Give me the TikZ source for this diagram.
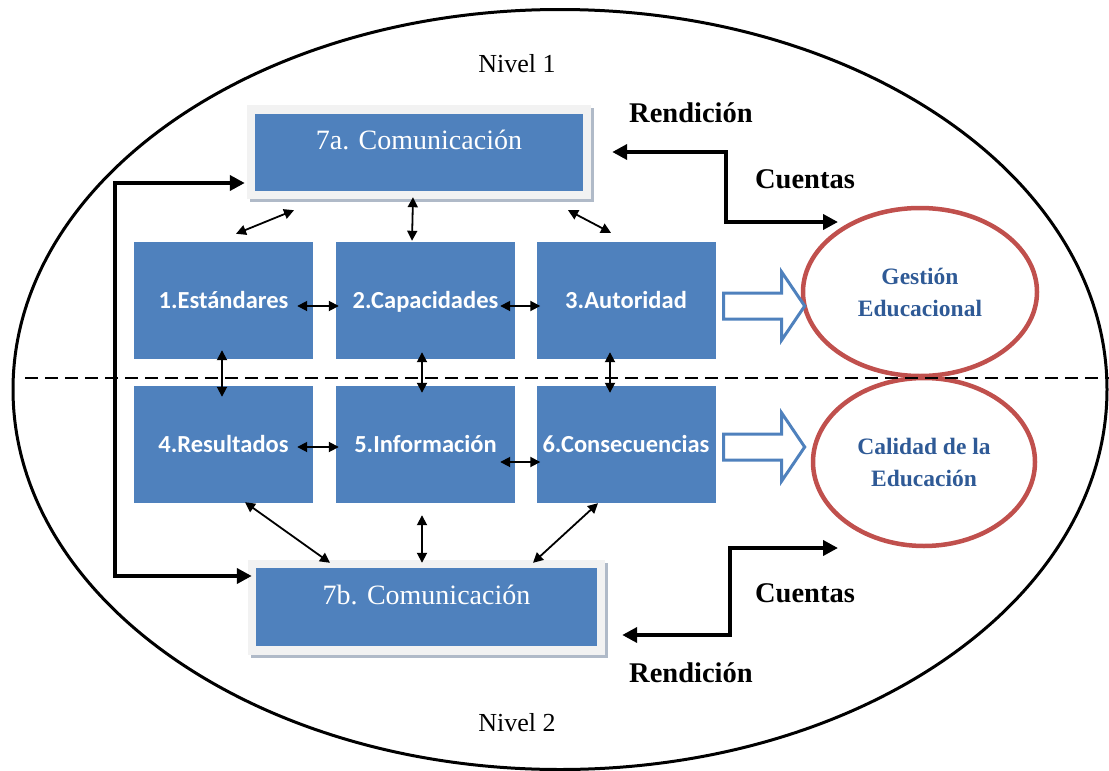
\documentclass[tikz,border=0pt]{standalone}
\usepackage{fontspec}
\setmainfont{Liberation Serif}
\newfontfamily\calibrifont{Carlito}
\usetikzlibrary{calc,arrows.meta,shapes.geometric}
\definecolor{boxblue}{HTML}{4F81BD}
\definecolor{ellred}{HTML}{C0504D}
\definecolor{txtblue}{HTML}{2F5A96}
\definecolor{framegray}{HTML}{F2F2F2}
\definecolor{shadowgray}{HTML}{B0BAC8}
\begin{document}
\begin{tikzpicture}[x=1pt,y=-1pt,
  bluebox/.style={fill=boxblue, draw=none, minimum width=179pt, minimum height=117pt, inner sep=0pt,
    text height=20pt, text depth=5pt,
    font=\calibrifont\bfseries\fontsize{24.5}{28}\selectfont, text=white},
  framebox/.style={fill=framegray, draw=none, inner sep=0pt},
  commbox/.style={fill=boxblue, draw=none, inner sep=0pt},
  commtext/.style={anchor=base, text=white, font=\fontsize{28}{32}\selectfont, inner sep=0pt},
  redell/.style={ellipse, draw=ellred, line width=4.5pt, inner sep=0pt, align=center,
    text=txtblue, font=\bfseries\fontsize{23.5}{32}\selectfont},
  thinarr/.style={line width=1.8pt, {Triangle[length=10pt,width=10pt]}-{Triangle[length=10pt,width=10pt]}},
  thickarr/.style={line width=4pt, line join=miter, {Triangle[length=15pt,width=15pt]}-{Triangle[length=15pt,width=15pt]}},
  sidelbl/.style={anchor=base, inner sep=0pt, font=\bfseries\fontsize{28.5}{32}\selectfont},
  nivel/.style={anchor=base, inner sep=0pt, font=\fontsize{26}{30}\selectfont},
  blockarr/.style={draw=boxblue, line width=3pt, fill=white, line join=miter}
]
\useasboundingbox (0,0) rectangle (1109,771);

% outer ellipse
\node[ellipse, draw=black, line width=3pt, minimum width=1094pt, minimum height=760pt, inner sep=0pt] (outer) at (560,389.5) {};

% Nivel labels
\node[nivel] (n1) at (517,72) {Nivel 1};
\node[nivel] (n2) at (517,731) {Nivel 2};

% 7a frame + box
\fill[shadowgray] (250,108) rectangle (594,202);
\node[framebox, minimum width=344pt, minimum height=94pt] (fa) at (419,152) {};
\node[commbox, minimum width=328pt, minimum height=77pt] (c7a) at (419,152.5) {};
\node[commtext] (t7a) at (419,149) {7a. Comunicación};

% 7b frame + box
\fill[shadowgray] (251,563) rectangle (608,658);
\node[framebox, minimum width=357pt, minimum height=95pt] (fb) at (426.5,607.5) {};
\node[commbox, minimum width=341pt, minimum height=78pt] (c7b) at (426.5,607) {};
\node[commtext] (t7b) at (426.5,604) {7b. Comunicación};

% blue boxes
\node[bluebox] (b1) at (223.5,300.5) {1.Estándares};
\node[bluebox] (b2) at (425.5,300.5) {2.Capacidades};
\node[bluebox] (b3) at (626,300.5) {3.Autoridad};
\node[bluebox] (b4) at (223.5,444.5) {4.Resultados};
\node[bluebox] (b5) at (425.5,444.5) {5.Información};
\node[bluebox] (b6) at (626,444.5) {6.Consecuencias};

% red ellipses
\node[redell, minimum width=234pt, minimum height=168pt] (e1) at (920,292) {Gestión\\Educacional};
\node[redell, minimum width=222pt, minimum height=168pt] (e2) at (924,462) {Calidad de la\\Educación};

% horizontal thin arrows
\draw[thinarr] ($(b1.east)+(-16,5.5)$) -- ($(b2.west)+(3,5.5)$);
\draw[thinarr] ($(b2.east)+(-15,5.5)$) -- ($(b3.west)+(4,5.5)$);
\draw[thinarr] ($(b4.east)+(-16,2.5)$) -- ($(b5.west)+(3,2.5)$);
\draw[thinarr] ($(b5.east)+(-15,17.5)$) -- ($(b6.west)+(4,17.5)$);

% vertical thin arrows
\draw[thinarr] ($(b1.south)+(-1.5,-9)$) -- ($(b4.north)+(-1.5,11)$);
\draw[thinarr] ($(b2.south)+(-3.5,-7)$) -- ($(b5.north)+(-3.5,7)$);
\draw[thinarr] ($(b3.south)+(-16,-7)$) -- ($(b6.north)+(-16,7)$);

% 7a arrows
\draw[thinarr] ($(fa.south)+(-125,11)$) -- ($(b1.north)+(12.5,-8)$);
\draw[thinarr] ($(fa.south)+(-6,-2)$) -- ($(b2.north)+(-13.5,-1)$);
\draw[thinarr] ($(fa.south)+(149,11)$) -- ($(b3.north)+(-15,-9)$);

% 7b arrows
\draw[thinarr] ($(b4.south)+(21.5,-1)$) -- ($(fb.north)+(-96.5,3)$);
\draw[thinarr] ($(b5.south)+(-3.5,12)$) -- ($(fb.north)+(-4.5,3)$);
\draw[thinarr] ($(b6.south)+(-28,0)$) -- ($(fb.north)+(106.5,3)$);

% block arrows
\draw[blockarr] ($(b3.east)+(8,5.5)$) ++(0,-13) -- ++(58,0) -- ++(0,-21) -- ++(23,34) -- ++(-23,34) -- ++(0,-21) -- ++(-58,0) -- cycle;
\draw[blockarr] ($(b6.east)+(8,2.5)$) ++(0,-13) -- ++(58,0) -- ++(0,-21) -- ++(23,34) -- ++(-23,34) -- ++(0,-21) -- ++(-58,0) -- cycle;

% loop on the left
\coordinate (lt) at (115,183);
\coordinate (lb) at (115,576);
\draw[thickarr] ($(fa.west)+(-2,31)$) -- (lt) -- (lb) -- ($(fb.west)+(4,-31.5)$);

% Rendicion / Cuentas arrows
\coordinate (r1a) at (726,152);
\coordinate (r1b) at (726,222);
\draw[thickarr] ($(fa.east)+(21,0)$) -- (r1a) -- (r1b) -- ($(e1.center)+(-82,-70)$);
\coordinate (r2a) at (730,548);
\coordinate (r2b) at (730,635);
\draw[thickarr] ($(e2.center)+(-86,86)$) -- (r2a) -- (r2b) -- ($(fb.east)+(17,27.5)$);

\node[sidelbl] (rend1) at (691,122) {Rendición};
\node[sidelbl] (cue1) at (805,188) {Cuentas};
\node[sidelbl] (cue2) at (805,602) {Cuentas};
\node[sidelbl] (rend2) at (691,682) {Rendición};

% dashed separator
\draw[line width=1.6pt, dash pattern=on 13pt off 7pt] (25,378) -- (1109,378);
\end{tikzpicture}
\end{document}
